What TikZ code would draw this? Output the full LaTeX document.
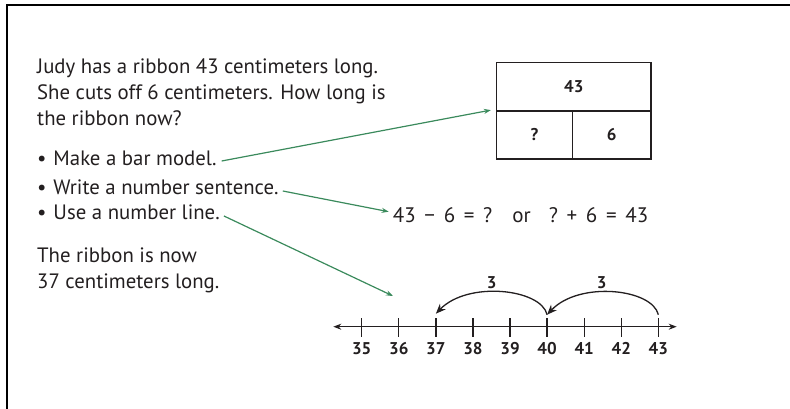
\documentclass[tikz,border=0pt]{standalone}
\usepackage{fontspec}
\setmainfont{PT Sans}
\usetikzlibrary{arrows.meta,calc}
\definecolor{arrgreen}{RGB}{58,138,92}
\definecolor{ink}{RGB}{35,31,32}
\newcommand{\blt}{\makebox[16.3pt][l]{•}}
\newcommand{\opsp}{\hspace{8.7pt}}
\begin{document}
\begin{tikzpicture}[x=1pt,y=-1pt,
  txt/.style={font=\fontsize{20.8}{24}\selectfont, text=ink, inner sep=0pt, anchor=base west},
  cell/.style={draw=ink, line width=1.5pt, inner sep=0pt, font=\fontsize{17}{20}\selectfont\bfseries, text=ink},
  guide/.style={draw=arrgreen, line width=1.2pt, -{Stealth[length=7pt,width=5pt]}},
  numlbl/.style={font=\fontsize{17}{20}\selectfont\bfseries, text=ink, inner sep=0pt},
  ticks/.style={draw=ink, line width=1.3pt},
  jump/.style={draw=ink, line width=1.3pt, -{Stealth[length=10pt,width=8pt]}},
  eqn/.style={font=\fontsize{21}{24}\selectfont, text=ink, inner sep=0pt, anchor=base west}]
\useasboundingbox (0,0) rectangle (790,409);
\draw[line width=2pt] (7,409) -- (7,5) -- (790,5);

% problem text
\node[txt] (p1) at (37,74) {Judy has a ribbon 43 centimeters long.};
\node[txt] (p2) at (37,100) {She cuts off 6 centimeters. How long is};
\node[txt] (p3) at (37,126) {the ribbon now?};
\node[txt] (b1) at (37,166) {\blt Make a bar model.};
\node[txt] (b2) at (37,194) {\blt Write a number sentence.};
\node[txt] (b3) at (37,219) {\blt Use a number line.};
\node[txt] (r1) at (37,262) {The ribbon is now};
\node[txt] (r2) at (37,288) {37 centimeters long.};

% bar model
\node[cell, minimum width=154.3pt, minimum height=48.3pt] (top) at (573.8,86.9) {43};
\node[cell, minimum width=75.6pt, minimum height=48pt] (bl) at (534.5,135) {?};
\node[cell, minimum width=78.7pt, minimum height=48pt] (br) at (611.65,135) {6};

% equation
\node[eqn] (eq) at (392.7,222.7) {43\opsp{}−\opsp{}6\opsp{}=\opsp{}?\hspace{20pt}or\hspace{18pt}?\opsp{}+\opsp{}6\opsp{}=\opsp{}43};

% number line
\coordinate (nlL) at (333.3,326.7);
\coordinate (nlR) at (676.7,326.7);
\draw[ticks, {Stealth[length=8pt,width=6pt]}-{Stealth[length=8pt,width=6pt]}] (nlL) -- (nlR);
\foreach \n [count=\i from 0] in {35,...,43} {
  \coordinate (t\n) at ({361.7+\i*37.08},326.7);
  \draw[ticks] ($(t\n)+(0,-8.4)$) -- ($(t\n)+(0,10)$);
  \node[numlbl] (l\n) at ($(t\n)+(0,21.5)$) {\n};
}
\coordinate (j43) at ($(t43)+(0,-12)$);
\coordinate (j40) at ($(t40)+(0,-12)$);
\coordinate (j37) at ($(t37)+(0,-13)$);
\draw[jump] (j43) .. controls ($(t43)+(-6,-38)$) and ($(t40)+(32,-46)$) .. (j40);
\draw[jump] (j40) .. controls ($(t40)+(-6,-38)$) and ($(t37)+(32,-46)$) .. (j37);
\node[numlbl] (k1) at (601.7,282.7) {3};
\node[numlbl] (k2) at (491.7,282.7) {3};

% guide arrows
\coordinate (g3end) at (393,296);
\draw[guide] ($(b1.base east)+(5,-5)$) -- ($(top.south west)+(-5,-1.7)$);
\draw[guide] ($(b2.base east)+(4,-3)$) -- ($(eq.base west)+(-4,-11)$);
\draw[guide] ($(b3.base east)+(4,-3)$) -- (g3end);
\end{tikzpicture}
\end{document}
